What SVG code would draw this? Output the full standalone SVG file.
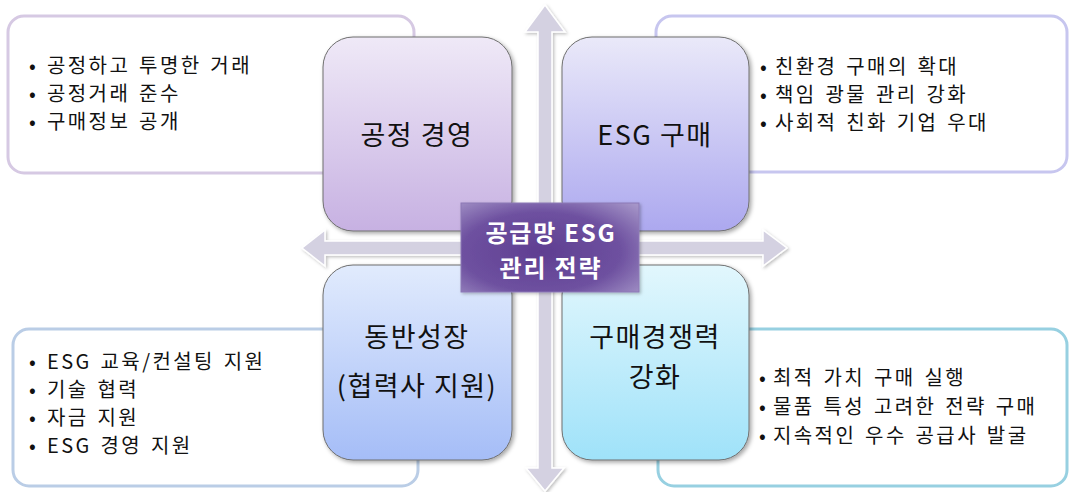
<svg xmlns="http://www.w3.org/2000/svg" width="1071" height="492" viewBox="0 0 1071 492">
<style>
.bul{font-family:"Noto Sans CJK KR","Malgun Gothic",sans-serif;font-size:20px;letter-spacing:2.4px;word-spacing:2px;fill:#111}
.ttl{font-family:"Noto Sans CJK KR","Malgun Gothic",sans-serif;font-size:27px;letter-spacing:1.5px;fill:#111;text-anchor:middle}
.ctr{font-family:"Noto Sans CJK KR","Malgun Gothic",sans-serif;font-size:24px;letter-spacing:1.8px;font-weight:bold;fill:#fff;text-anchor:middle}
.ob{fill:#fff;stroke-width:3}
.sq{stroke:#6e6e6e;stroke-width:1;filter:url(#sh)}
.arr{fill:#d4d1e1;stroke:#fff;stroke-width:1.5;filter:url(#sh2)}
</style>
<defs>
<linearGradient id="g1" x1="0" y1="0" x2="0" y2="1"><stop offset="0" stop-color="#efe9f7"/><stop offset="1" stop-color="#c7b1e2"/></linearGradient>
<linearGradient id="g2" x1="0" y1="0" x2="0" y2="1"><stop offset="0" stop-color="#eae9f9"/><stop offset="1" stop-color="#aca8ef"/></linearGradient>
<linearGradient id="g3" x1="0" y1="0" x2="0" y2="1"><stop offset="0" stop-color="#e1ebfd"/><stop offset="1" stop-color="#a5bdf7"/></linearGradient>
<linearGradient id="g4" x1="0" y1="0" x2="0" y2="1"><stop offset="0" stop-color="#e2f7fd"/><stop offset="1" stop-color="#9fe2f9"/></linearGradient>
<radialGradient id="gc" cx="0.45" cy="0.55" r="0.75"><stop offset="0" stop-color="#5f3e91"/><stop offset="0.6" stop-color="#6e51a0"/><stop offset="1" stop-color="#a595c8"/></radialGradient>
<filter id="sh" x="-10%" y="-10%" width="130%" height="130%"><feDropShadow dx="2" dy="2" stdDeviation="2" flood-color="#000" flood-opacity="0.35"/></filter>
<filter id="sh2" x="-10%" y="-10%" width="130%" height="130%"><feDropShadow dx="1.5" dy="1.5" stdDeviation="1.5" flood-color="#000" flood-opacity="0.25"/></filter>
</defs>

<g id="box-tl"><rect class="ob" x="8" y="16" width="406" height="157" rx="16" stroke="#d6c9e3"/></g>
<g id="box-tr"><rect class="ob" x="656" y="16" width="411" height="156" rx="16" stroke="#c7c6ef"/></g>
<g id="box-bl"><rect class="ob" x="13" y="329" width="405" height="157" rx="16" stroke="#bacde6"/></g>
<g id="box-br"><rect class="ob" x="658" y="329" width="409" height="157" rx="16" stroke="#97d0e1"/></g>

<g id="connectors">
<path class="arr" d="M545 5 L565 32 L552 32 L552 468 L564 468 L545 491 L526 468 L538 468 L538 32 L525 32 Z"/>
<path class="arr" d="M302 248 L325 230 L325 241 L763 241 L763 230 L787 248 L763 266 L763 255 L325 255 L325 266 Z"/>
</g>

<g id="node-tl">
<rect class="sq" x="323" y="37" width="189" height="194" rx="30" fill="url(#g1)"/>
<text class="ttl" x="417" y="145">공정 경영</text>
</g>
<g id="node-tr">
<rect class="sq" x="562" y="37" width="187" height="194" rx="30" fill="url(#g2)"/>
<text class="ttl" x="655" y="145">ESG 구매</text>
</g>
<g id="node-bl">
<rect class="sq" x="323" y="265" width="189" height="195" rx="30" fill="url(#g3)"/>
<text class="ttl" x="417" y="347">동반성장</text>
<text class="ttl" x="417" y="396">(협력사 지원)</text>
</g>
<g id="node-br">
<rect class="sq" x="562" y="265" width="187" height="195" rx="30" fill="url(#g4)"/>
<text class="ttl" x="655" y="347">구매경쟁력</text>
<text class="ttl" x="655" y="387">강화</text>
</g>

<g id="list-tl">
<text class="bul" y="73"><tspan x="29">•</tspan><tspan x="47">공정하고 투명한 거래</tspan></text>
<text class="bul" y="101"><tspan x="29">•</tspan><tspan x="47">공정거래 준수</tspan></text>
<text class="bul" y="129"><tspan x="29">•</tspan><tspan x="47">구매정보 공개</tspan></text>
</g>
<g id="list-tr">
<text class="bul" y="74"><tspan x="760">•</tspan><tspan x="775">친환경 구매의 확대</tspan></text>
<text class="bul" y="102"><tspan x="760">•</tspan><tspan x="775">책임 광물 관리 강화</tspan></text>
<text class="bul" y="130"><tspan x="760">•</tspan><tspan x="775">사회적 친화 기업 우대</tspan></text>
</g>
<g id="list-bl">
<text class="bul" y="369"><tspan x="29">•</tspan><tspan x="47">ESG 교육/컨설팅 지원</tspan></text>
<text class="bul" y="397"><tspan x="29">•</tspan><tspan x="47">기술 협력</tspan></text>
<text class="bul" y="425"><tspan x="29">•</tspan><tspan x="47">자금 지원</tspan></text>
<text class="bul" y="453"><tspan x="29">•</tspan><tspan x="47">ESG 경영 지원</tspan></text>
</g>
<g id="list-br">
<text class="bul" y="385"><tspan x="759">•</tspan><tspan x="773">최적 가치 구매 실행</tspan></text>
<text class="bul" y="414"><tspan x="759">•</tspan><tspan x="773">물품 특성 고려한 전략 구매</tspan></text>
<text class="bul" y="443"><tspan x="759">•</tspan><tspan x="773">지속적인 우수 공급사 발굴</tspan></text>
</g>

<g id="node-center">
<rect x="461" y="203" width="178" height="89" fill="url(#gc)" stroke="#8c78b6" stroke-width="1" filter="url(#sh2)"/>
<text class="ctr" x="551" y="242">공급망 ESG</text>
<text class="ctr" x="551" y="277">관리 전략</text>
</g>
</svg>
